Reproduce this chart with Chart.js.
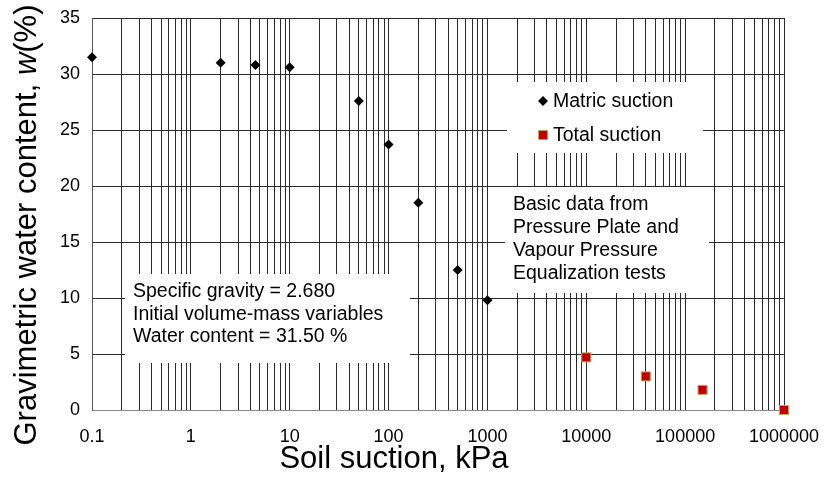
<!DOCTYPE html>
<html>
<head>
<meta charset="utf-8">
<script src="https://cdn.jsdelivr.net/npm/chart.js@4"></script>
<style>
  html, body { margin: 0; padding: 0; background: #fff; }
  #wrap { width: 826px; height: 486px; }
</style>
</head>
<body>
<div id="wrap"><canvas id="swcc"></canvas></div>
<script>
// tick labels on the log axis (one per decade)
const xTickLabels = ['0.1', '1', '10', '100', '1000', '10000', '100000', '1000000'];
const yMin = 0, yMax = 35, yStep = 5;

// matric suction (pressure plate)
const matricSuction = [0.1, 2, 4.5, 10, 50, 100, 200, 500, 1000];
const matricWater = [31.5, 31.0, 30.8, 30.6, 27.6, 23.7, 18.5, 12.5, 9.8];

// total suction (vapour pressure equalization)
const totalSuction = [10000, 40000, 150000, 1000000];
const totalWater = [4.7, 3.0, 1.8, 0];

const seriesNames = ['Matric suction', 'Total suction'];
const noteLines = ['Specific gravity = 2.680', 'Initial volume-mass variables', 'Water content = 31.50 %'];
const sourceLines = ['Basic data from', 'Pressure Plate and', 'Vapour Pressure', 'Equalization tests'];

const FONT = "'Liberation Sans', Arial, sans-serif";

// grid at 1..9 x each decade
const decades = xTickLabels.map(Number);
const gridValues = [];
decades.forEach((d, i) => {
  if (i === decades.length - 1) { gridValues.push(d); return; }
  for (let k = 1; k <= 9; k++) gridValues.push(d * k);
});

function labelFor(v) {
  for (const s of xTickLabels) {
    if (Math.abs(Math.log10(v) - Math.log10(Number(s))) < 1e-9) return s;
  }
  return '';
}

const overlay = {
  id: 'overlay',
  beforeDatasetsDraw(chart) {
    const ctx = chart.ctx;
    ctx.save();
    ctx.fillStyle = '#fff';
    ctx.fillRect(125, 274, 285, 89);   // notes
    ctx.fillRect(507, 82, 196, 71);    // legend
    ctx.fillRect(505, 187, 204, 106);  // source
    ctx.restore();
  },
  afterDatasetsDraw(chart) {
    const ctx = chart.ctx;
    ctx.save();
    ctx.font = '19.5px ' + FONT;
    ctx.fillStyle = '#000';
    ctx.textAlign = 'left';
    ctx.textBaseline = 'middle';
    noteLines.forEach((t, i) => ctx.fillText(t, 133, 292 + i * 22.5));
    sourceLines.forEach((t, i) => ctx.fillText(t, 513, 205 + i * 23));

    // legend
    chart.data.datasets.forEach((ds, i) => {
      const y = 101 + i * 34;
      ctx.fillStyle = ds.backgroundColor;
      ctx.strokeStyle = ds.borderColor;
      ctx.lineWidth = ds.borderWidth;
      Chart.helpers.drawPoint(ctx, {
        pointStyle: ds.pointStyle, radius: ds.pointRadius, rotation: 0, borderWidth: ds.borderWidth
      }, 543, y);
      ctx.fillStyle = '#000';
      ctx.fillText(ds.label, 553, y + 1);
    });
    ctx.restore();
  },
  afterDraw(chart) {
    const ctx = chart.ctx;
    ctx.save();
    ctx.fillStyle = '#000';
    ctx.textBaseline = 'alphabetic';
    // x title
    ctx.font = '31px ' + FONT;
    ctx.textAlign = 'center';
    ctx.fillText('Soil suction, kPa', 394, 468);
    // y title with italic w
    const parts = [['Gravimetric water content, ', ''], ['w', 'italic '], ['(%)', '']];
    const widths = parts.map(p => { ctx.font = p[1] + '31px ' + FONT; return ctx.measureText(p[0]).width; });
    const total = widths.reduce((a, b) => a + b, 0);
    ctx.translate(36, 225);
    ctx.rotate(-Math.PI / 2);
    ctx.textAlign = 'left';
    let x = -total / 2;
    parts.forEach((p, i) => {
      ctx.font = p[1] + '31px ' + FONT;
      ctx.fillText(p[0], x, 0);
      x += widths[i];
    });
    ctx.restore();
  }
};

new Chart(document.getElementById('swcc'), {
  type: 'scatter',
  data: {
    datasets: [{
      label: seriesNames[0],
      data: matricSuction.map((s, i) => ({ x: s, y: matricWater[i] })),
      pointStyle: 'rectRot',
      pointRadius: 5,
      backgroundColor: '#000',
      borderColor: '#000',
      borderWidth: 0,
      clip: false
    }, {
      label: seriesNames[1],
      data: totalSuction.map((s, i) => ({ x: s, y: totalWater[i] })),
      pointStyle: 'rect',
      pointRadius: 6.4,
      backgroundColor: '#c00000',
      borderColor: '#c8a060',
      borderWidth: 1,
      clip: false
    }]
  },
  options: {
    responsive: true,
    maintainAspectRatio: false,
    animation: false,
    layout: { padding: { left: 0, right: 42, top: 18, bottom: 0 } },
    plugins: { legend: { display: false }, tooltip: { enabled: false } },
    scales: {
      x: {
        type: 'logarithmic',
        min: decades[0],
        max: decades[decades.length - 1],
        afterBuildTicks: (scale) => { scale.ticks = gridValues.map(v => ({ value: v })); },
        afterFit: (scale) => {
          scale.height = 76;
          scale.paddingLeft = 0;
          scale.paddingRight = 0;
        },
        grid: { color: '#2a2a2a', lineWidth: 1, drawTicks: false },
        border: { color: '#8a8a8a', width: 1 },
        ticks: {
          autoSkip: false,
          maxRotation: 0,
          padding: 16,
          color: '#000',
          font: { family: FONT, size: 18 },
          callback: (v) => labelFor(v)
        }
      },
      y: {
        min: yMin,
        max: yMax,
        afterFit: (scale) => {
          scale.width = 92;
          scale.paddingTop = 0;
          scale.paddingBottom = 0;
        },
        grid: { color: '#2a2a2a', lineWidth: 1, drawTicks: false },
        border: { color: '#555', width: 1 },
        ticks: {
          stepSize: yStep,
          padding: 12,
          color: '#000',
          font: { family: FONT, size: 18 }
        }
      }
    }
  },
  plugins: [overlay]
});
</script>
</body>
</html>
